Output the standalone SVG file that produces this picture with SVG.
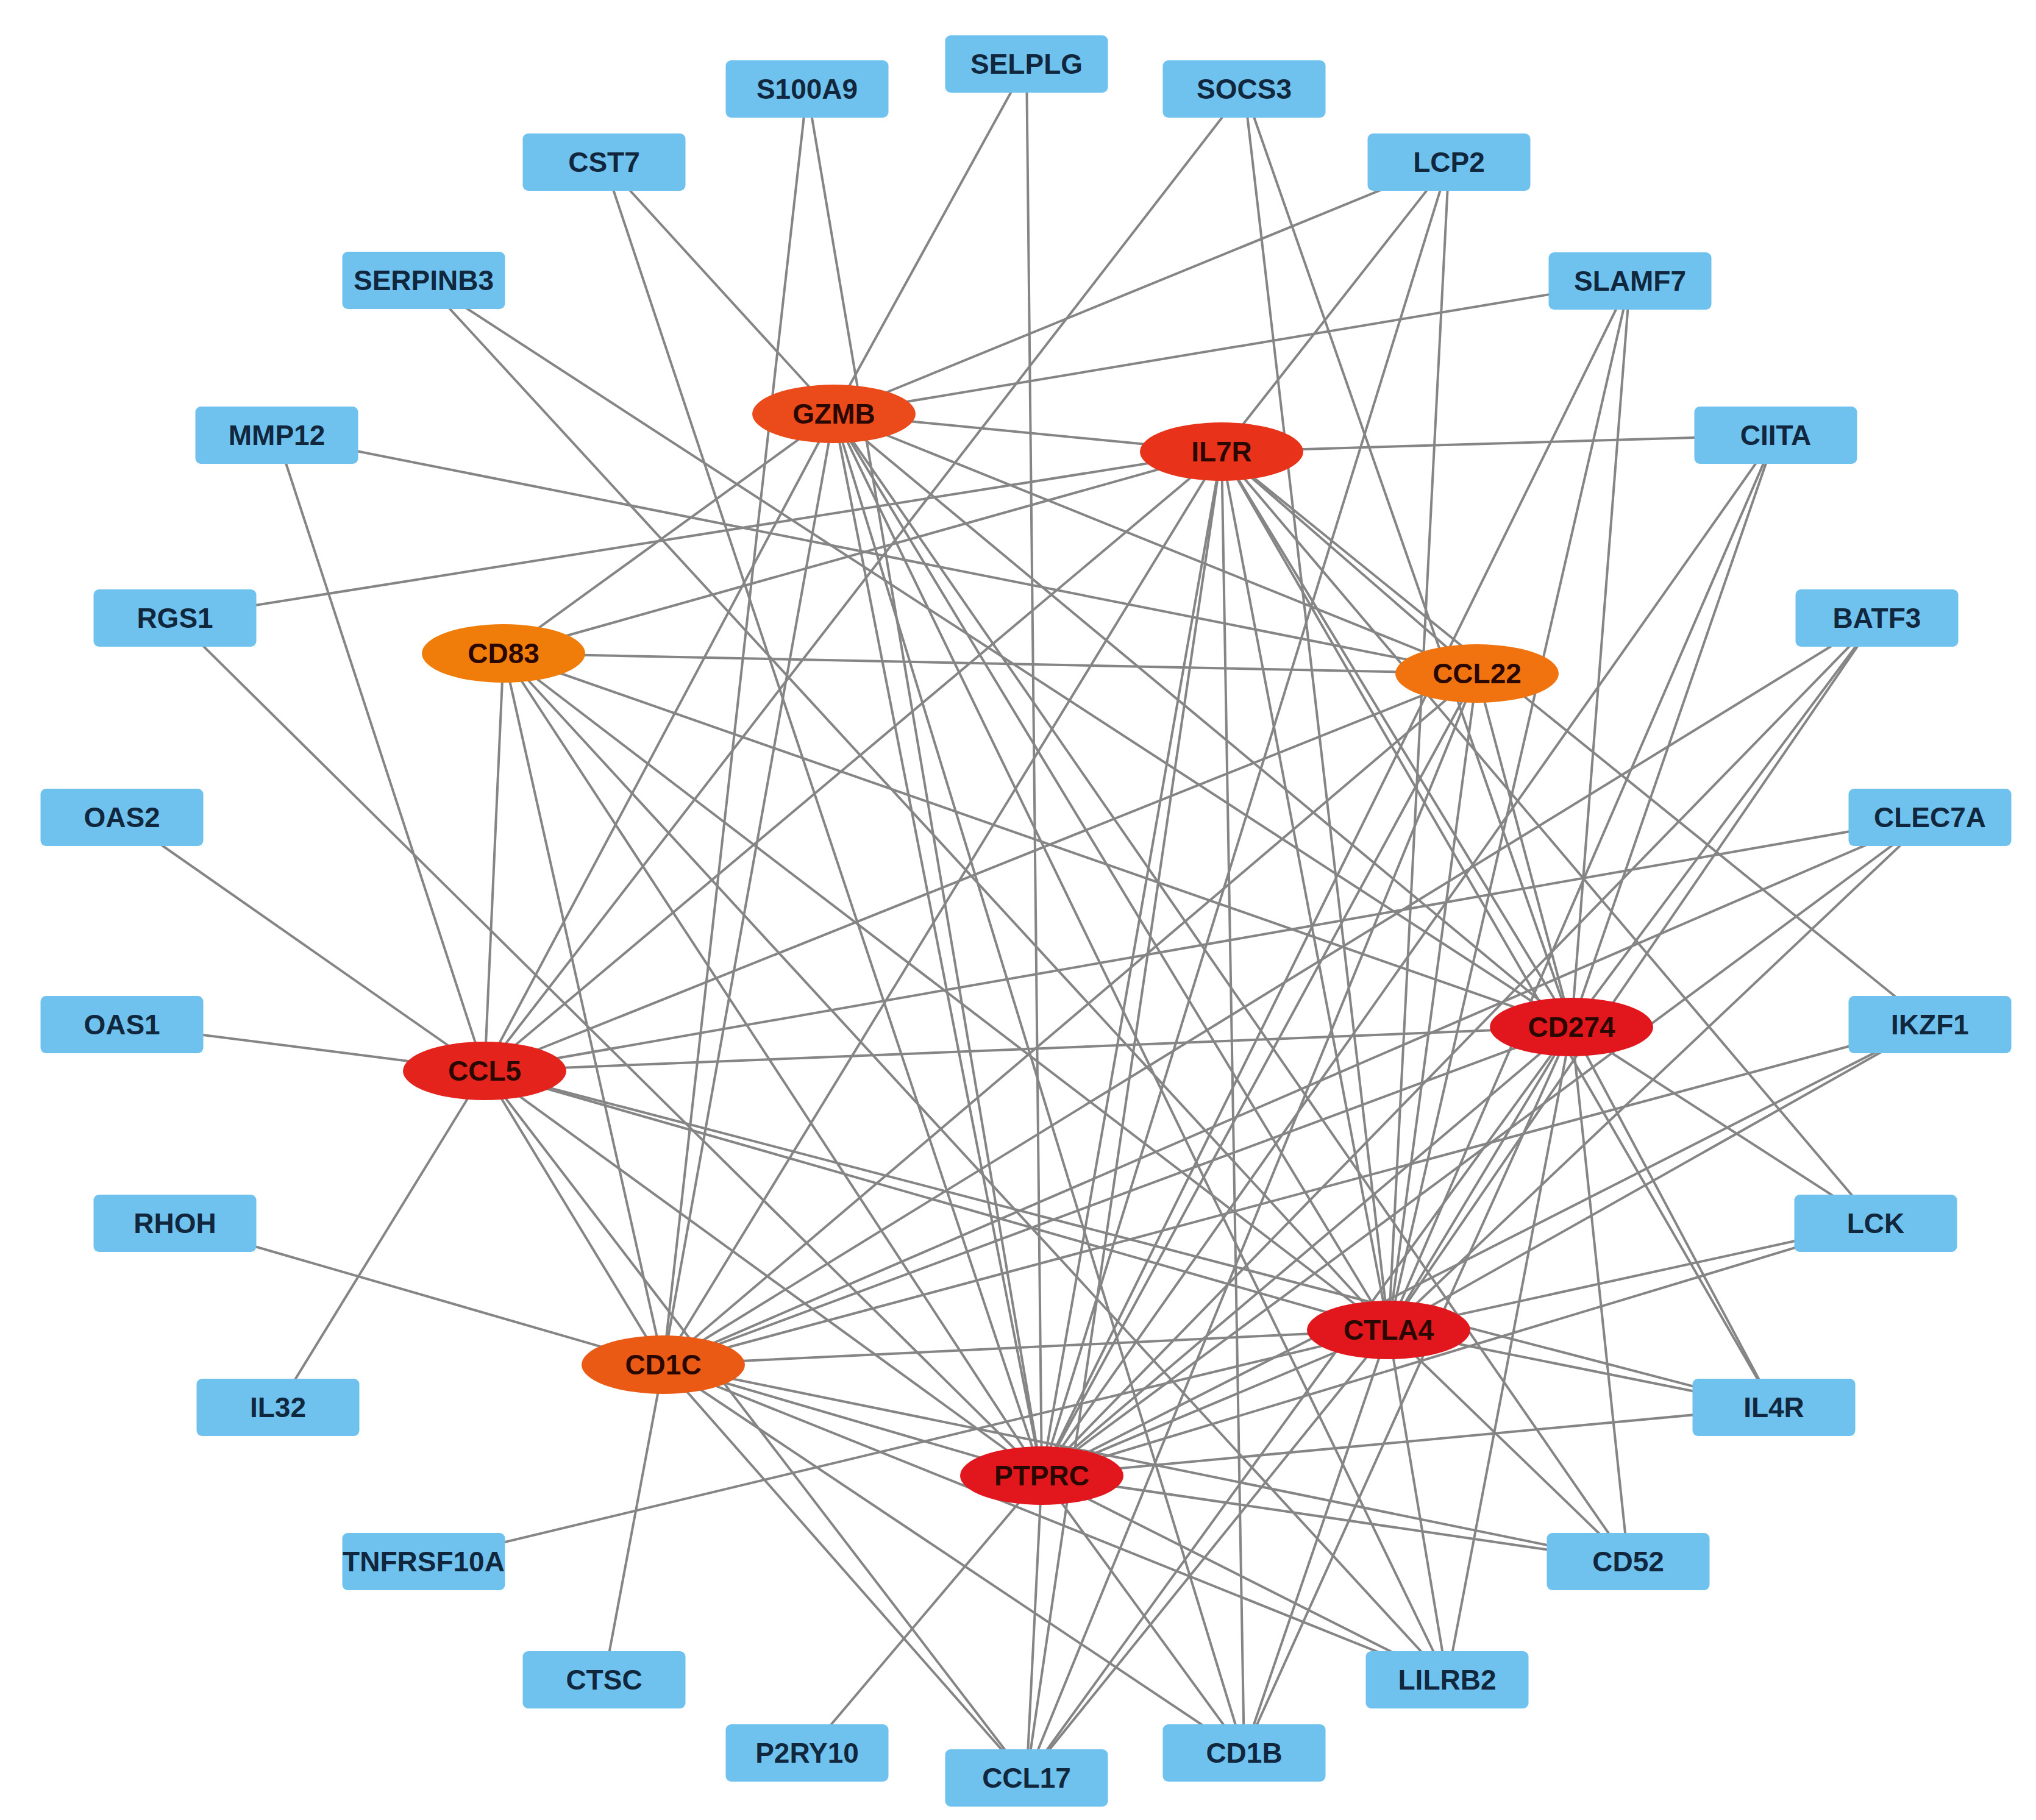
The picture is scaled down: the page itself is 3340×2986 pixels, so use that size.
<svg xmlns="http://www.w3.org/2000/svg" width="3340" height="2986" viewBox="0 0 3340 2986">
<style>
.e{stroke:#858585;stroke-width:4;fill:none}
.b use{fill:#70C2EE}
.b text{fill:#10273d}
.h text{fill:#2a0800}
text{font-family:"Liberation Sans",Arial,sans-serif;font-weight:bold;font-size:46px;text-anchor:middle;dominant-baseline:central}
</style>
<defs>
<rect id="box" x="-133.5" y="-47" width="267" height="94" rx="9"/>
<ellipse id="ell" cx="0" cy="0" rx="134" ry="48"/>
</defs>
<rect width="3340" height="2986" fill="#ffffff"/>
<g id="edges" class="e">
<line x1="1368" y1="679" x2="2004" y2="741"/>
<line x1="1368" y1="679" x2="826" y2="1072"/>
<line x1="1368" y1="679" x2="2423" y2="1105"/>
<line x1="1368" y1="679" x2="795" y2="1757"/>
<line x1="1368" y1="679" x2="2578" y2="1685"/>
<line x1="1368" y1="679" x2="2278" y2="2182"/>
<line x1="1368" y1="679" x2="1088" y2="2239"/>
<line x1="1368" y1="679" x2="1709" y2="2421"/>
<line x1="2004" y1="741" x2="826" y2="1072"/>
<line x1="2004" y1="741" x2="2423" y2="1105"/>
<line x1="2004" y1="741" x2="795" y2="1757"/>
<line x1="2004" y1="741" x2="2578" y2="1685"/>
<line x1="2004" y1="741" x2="2278" y2="2182"/>
<line x1="2004" y1="741" x2="1088" y2="2239"/>
<line x1="2004" y1="741" x2="1709" y2="2421"/>
<line x1="826" y1="1072" x2="2423" y2="1105"/>
<line x1="826" y1="1072" x2="795" y2="1757"/>
<line x1="826" y1="1072" x2="2578" y2="1685"/>
<line x1="826" y1="1072" x2="2278" y2="2182"/>
<line x1="826" y1="1072" x2="1088" y2="2239"/>
<line x1="826" y1="1072" x2="1709" y2="2421"/>
<line x1="2423" y1="1105" x2="795" y2="1757"/>
<line x1="2423" y1="1105" x2="2578" y2="1685"/>
<line x1="2423" y1="1105" x2="2278" y2="2182"/>
<line x1="2423" y1="1105" x2="1088" y2="2239"/>
<line x1="2423" y1="1105" x2="1709" y2="2421"/>
<line x1="795" y1="1757" x2="2578" y2="1685"/>
<line x1="795" y1="1757" x2="2278" y2="2182"/>
<line x1="795" y1="1757" x2="1088" y2="2239"/>
<line x1="795" y1="1757" x2="1709" y2="2421"/>
<line x1="2578" y1="1685" x2="2278" y2="2182"/>
<line x1="2578" y1="1685" x2="1088" y2="2239"/>
<line x1="2578" y1="1685" x2="1709" y2="2421"/>
<line x1="2278" y1="2182" x2="1088" y2="2239"/>
<line x1="2278" y1="2182" x2="1709" y2="2421"/>
<line x1="1088" y1="2239" x2="1709" y2="2421"/>
<line x1="1684" y1="105" x2="1368" y2="679"/>
<line x1="1684" y1="105" x2="1709" y2="2421"/>
<line x1="1324" y1="146" x2="1088" y2="2239"/>
<line x1="1324" y1="146" x2="1709" y2="2421"/>
<line x1="2041" y1="146" x2="795" y2="1757"/>
<line x1="2041" y1="146" x2="2278" y2="2182"/>
<line x1="2041" y1="146" x2="2578" y2="1685"/>
<line x1="991" y1="266" x2="1368" y2="679"/>
<line x1="991" y1="266" x2="1709" y2="2421"/>
<line x1="2377" y1="266" x2="1368" y2="679"/>
<line x1="2377" y1="266" x2="2004" y2="741"/>
<line x1="2377" y1="266" x2="1709" y2="2421"/>
<line x1="2377" y1="266" x2="2278" y2="2182"/>
<line x1="695" y1="460" x2="2278" y2="2182"/>
<line x1="695" y1="460" x2="2578" y2="1685"/>
<line x1="2674" y1="461" x2="1368" y2="679"/>
<line x1="2674" y1="461" x2="1709" y2="2421"/>
<line x1="2674" y1="461" x2="2278" y2="2182"/>
<line x1="2674" y1="461" x2="2578" y2="1685"/>
<line x1="454" y1="714" x2="2423" y2="1105"/>
<line x1="454" y1="714" x2="795" y2="1757"/>
<line x1="2913" y1="714" x2="2004" y2="741"/>
<line x1="2913" y1="714" x2="1709" y2="2421"/>
<line x1="2913" y1="714" x2="2278" y2="2182"/>
<line x1="2913" y1="714" x2="2578" y2="1685"/>
<line x1="287" y1="1014" x2="2004" y2="741"/>
<line x1="287" y1="1014" x2="1709" y2="2421"/>
<line x1="3079" y1="1014" x2="1088" y2="2239"/>
<line x1="3079" y1="1014" x2="1709" y2="2421"/>
<line x1="3079" y1="1014" x2="2278" y2="2182"/>
<line x1="3079" y1="1014" x2="2578" y2="1685"/>
<line x1="200" y1="1341" x2="795" y2="1757"/>
<line x1="3166" y1="1341" x2="795" y2="1757"/>
<line x1="3166" y1="1341" x2="1088" y2="2239"/>
<line x1="3166" y1="1341" x2="1709" y2="2421"/>
<line x1="3166" y1="1341" x2="2278" y2="2182"/>
<line x1="200" y1="1681" x2="795" y2="1757"/>
<line x1="3166" y1="1681" x2="2004" y2="741"/>
<line x1="3166" y1="1681" x2="1088" y2="2239"/>
<line x1="3166" y1="1681" x2="1709" y2="2421"/>
<line x1="3166" y1="1681" x2="2278" y2="2182"/>
<line x1="287" y1="2007" x2="1088" y2="2239"/>
<line x1="3077" y1="2007" x2="2278" y2="2182"/>
<line x1="3077" y1="2007" x2="1709" y2="2421"/>
<line x1="3077" y1="2007" x2="2578" y2="1685"/>
<line x1="3077" y1="2007" x2="2004" y2="741"/>
<line x1="456" y1="2309" x2="795" y2="1757"/>
<line x1="2910" y1="2309" x2="795" y2="1757"/>
<line x1="2910" y1="2309" x2="2278" y2="2182"/>
<line x1="2910" y1="2309" x2="1709" y2="2421"/>
<line x1="2910" y1="2309" x2="2004" y2="741"/>
<line x1="2910" y1="2309" x2="2578" y2="1685"/>
<line x1="695" y1="2562" x2="2278" y2="2182"/>
<line x1="2671" y1="2562" x2="1088" y2="2239"/>
<line x1="2671" y1="2562" x2="1709" y2="2421"/>
<line x1="2671" y1="2562" x2="2278" y2="2182"/>
<line x1="2671" y1="2562" x2="1368" y2="679"/>
<line x1="2671" y1="2562" x2="2578" y2="1685"/>
<line x1="991" y1="2756" x2="1088" y2="2239"/>
<line x1="2374" y1="2756" x2="1088" y2="2239"/>
<line x1="2374" y1="2756" x2="1709" y2="2421"/>
<line x1="2374" y1="2756" x2="826" y2="1072"/>
<line x1="2374" y1="2756" x2="1368" y2="679"/>
<line x1="2374" y1="2756" x2="2278" y2="2182"/>
<line x1="2374" y1="2756" x2="2578" y2="1685"/>
<line x1="1324" y1="2876" x2="1709" y2="2421"/>
<line x1="2041" y1="2876" x2="1088" y2="2239"/>
<line x1="2041" y1="2876" x2="1709" y2="2421"/>
<line x1="2041" y1="2876" x2="1368" y2="679"/>
<line x1="2041" y1="2876" x2="2004" y2="741"/>
<line x1="2041" y1="2876" x2="2278" y2="2182"/>
<line x1="2041" y1="2876" x2="2578" y2="1685"/>
<line x1="1684" y1="2917" x2="1088" y2="2239"/>
<line x1="1684" y1="2917" x2="795" y2="1757"/>
<line x1="1684" y1="2917" x2="1709" y2="2421"/>
<line x1="1684" y1="2917" x2="2004" y2="741"/>
<line x1="1684" y1="2917" x2="2423" y2="1105"/>
<line x1="1684" y1="2917" x2="2278" y2="2182"/>
<line x1="1684" y1="2917" x2="2578" y2="1685"/>
</g>
<g id="SELPLG" class="b" transform="translate(1684,105)"><use href="#box"/><text>SELPLG</text></g>
<g id="S100A9" class="b" transform="translate(1324,146)"><use href="#box"/><text>S100A9</text></g>
<g id="SOCS3" class="b" transform="translate(2041,146)"><use href="#box"/><text>SOCS3</text></g>
<g id="CST7" class="b" transform="translate(991,266)"><use href="#box"/><text>CST7</text></g>
<g id="LCP2" class="b" transform="translate(2377,266)"><use href="#box"/><text>LCP2</text></g>
<g id="SERPINB3" class="b" transform="translate(695,460)"><use href="#box"/><text>SERPINB3</text></g>
<g id="SLAMF7" class="b" transform="translate(2674,461)"><use href="#box"/><text>SLAMF7</text></g>
<g id="MMP12" class="b" transform="translate(454,714)"><use href="#box"/><text>MMP12</text></g>
<g id="CIITA" class="b" transform="translate(2913,714)"><use href="#box"/><text>CIITA</text></g>
<g id="RGS1" class="b" transform="translate(287,1014)"><use href="#box"/><text>RGS1</text></g>
<g id="BATF3" class="b" transform="translate(3079,1014)"><use href="#box"/><text>BATF3</text></g>
<g id="OAS2" class="b" transform="translate(200,1341)"><use href="#box"/><text>OAS2</text></g>
<g id="CLEC7A" class="b" transform="translate(3166,1341)"><use href="#box"/><text>CLEC7A</text></g>
<g id="OAS1" class="b" transform="translate(200,1681)"><use href="#box"/><text>OAS1</text></g>
<g id="IKZF1" class="b" transform="translate(3166,1681)"><use href="#box"/><text>IKZF1</text></g>
<g id="RHOH" class="b" transform="translate(287,2007)"><use href="#box"/><text>RHOH</text></g>
<g id="LCK" class="b" transform="translate(3077,2007)"><use href="#box"/><text>LCK</text></g>
<g id="IL32" class="b" transform="translate(456,2309)"><use href="#box"/><text>IL32</text></g>
<g id="IL4R" class="b" transform="translate(2910,2309)"><use href="#box"/><text>IL4R</text></g>
<g id="TNFRSF10A" class="b" transform="translate(695,2562)"><use href="#box"/><text>TNFRSF10A</text></g>
<g id="CD52" class="b" transform="translate(2671,2562)"><use href="#box"/><text>CD52</text></g>
<g id="CTSC" class="b" transform="translate(991,2756)"><use href="#box"/><text>CTSC</text></g>
<g id="LILRB2" class="b" transform="translate(2374,2756)"><use href="#box"/><text>LILRB2</text></g>
<g id="P2RY10" class="b" transform="translate(1324,2876)"><use href="#box"/><text>P2RY10</text></g>
<g id="CD1B" class="b" transform="translate(2041,2876)"><use href="#box"/><text>CD1B</text></g>
<g id="CCL17" class="b" transform="translate(1684,2917)"><use href="#box"/><text>CCL17</text></g>
<g id="GZMB" class="h" transform="translate(1368,679)"><use href="#ell" fill="#EB4A1B"/><text>GZMB</text></g>
<g id="IL7R" class="h" transform="translate(2004,741)"><use href="#ell" fill="#E83219"/><text>IL7R</text></g>
<g id="CD83" class="h" transform="translate(826,1072)"><use href="#ell" fill="#F07D0A"/><text>CD83</text></g>
<g id="CCL22" class="h" transform="translate(2423,1105)"><use href="#ell" fill="#F0730F"/><text>CCL22</text></g>
<g id="CCL5" class="h" transform="translate(795,1757)"><use href="#ell" fill="#E4231C"/><text>CCL5</text></g>
<g id="CD274" class="h" transform="translate(2578,1685)"><use href="#ell" fill="#E2161D"/><text>CD274</text></g>
<g id="CTLA4" class="h" transform="translate(2278,2182)"><use href="#ell" fill="#E2161D"/><text>CTLA4</text></g>
<g id="CD1C" class="h" transform="translate(1088,2239)"><use href="#ell" fill="#EB5A14"/><text>CD1C</text></g>
<g id="PTPRC" class="h" transform="translate(1709,2421)"><use href="#ell" fill="#E2161D"/><text>PTPRC</text></g>
</svg>
